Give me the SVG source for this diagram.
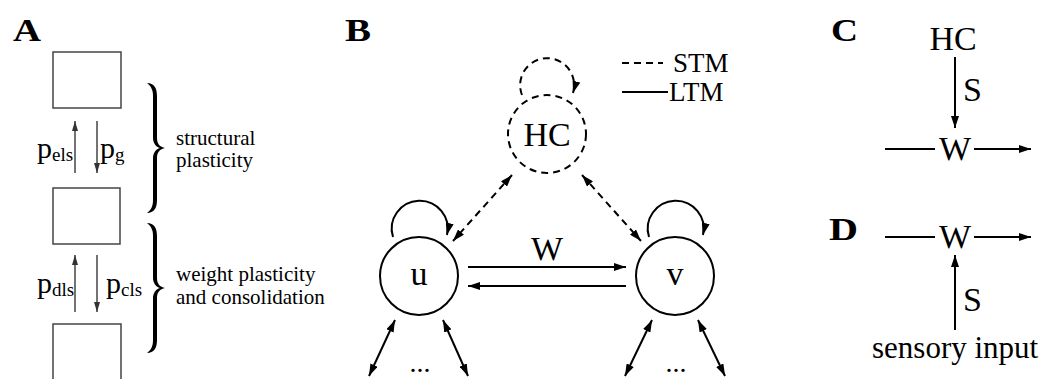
<svg xmlns="http://www.w3.org/2000/svg" width="1043" height="379" viewBox="0 0 1043 379" font-family="Liberation Serif, serif">
<defs>
<style>
.lbl{font-weight:bold;font-size:31px}
.big{font-size:34px}
.mid{font-size:21px}
.pa{fill:none;stroke:#444;stroke-width:1.5}
.ln{fill:none;stroke:#000;stroke-width:2}
.ds{fill:none;stroke:#000;stroke-width:2;stroke-dasharray:7 5}
</style>
<marker id="ahA" viewBox="0 0 10 6" refX="10" refY="3" markerWidth="10" markerHeight="6" markerUnits="userSpaceOnUse" orient="auto"><path d="M0,0 L10,3 L0,6 Z" fill="#333"/></marker>
<marker id="ah" viewBox="0 0 12 8" refX="12" refY="4" markerWidth="12" markerHeight="8" markerUnits="userSpaceOnUse" orient="auto-start-reverse"><path d="M0,0 L12,4 L0,8 Z" fill="#000"/></marker>
<path id="brace" d="M-8,-65 C-1,-65 2,-60 2,-52 L2,-10 C2,-4 5,-1 10,0 C5,1 2,4 2,10 L2,52 C2,60 -1,65 -8,65 C-4,62 -2,58 -2,52 L-2,10 C-2,5 1,1 5,0 C1,-1 -2,-5 -2,-10 L-2,-52 C-2,-58 -4,-62 -8,-65 Z" fill="#000"/>
</defs>

<!-- Panel A -->
<g id="panelA">
<text class="lbl" x="13" y="41" font-family="Liberation Serif, serif" textLength="28" lengthAdjust="spacingAndGlyphs">A</text>
<g id="boxTop"><rect class="pa" x="53" y="52" width="68" height="56"/></g>
<g id="boxMid"><rect class="pa" x="53" y="188" width="67" height="56"/></g>
<g id="boxBot"><path class="pa" d="M53,379 L53,324 L121,324 L121,379"/></g>
<g id="braceStruct"><use href="#brace" x="155" y="148"/></g>
<g id="braceWeight"><use href="#brace" x="155" y="288"/></g>
<text class="mid" x="176" y="145" font-family="Liberation Serif, serif">structural</text>
<text class="mid" x="176" y="167" font-family="Liberation Serif, serif">plasticity</text>
<text class="mid" x="176" y="281" font-family="Liberation Serif, serif">weight plasticity</text>
<text class="mid" x="176" y="304" font-family="Liberation Serif, serif">and consolidation</text>
<text x="37" y="158" font-size="30" font-family="Liberation Serif, serif">p<tspan font-size="19" dy="3">els</tspan></text>
<text x="100" y="158" font-size="30" font-family="Liberation Serif, serif">p<tspan font-size="19" dy="3">g</tspan></text>
<text x="37" y="293" font-size="30" font-family="Liberation Serif, serif">p<tspan font-size="19" dy="3">dls</tspan></text>
<text x="106" y="293" font-size="30" font-family="Liberation Serif, serif">p<tspan font-size="19" dy="3">cls</tspan></text>
</g>
<g id="connectorsA">
<line class="pa" x1="75" y1="173" x2="75" y2="121" marker-end="url(#ahA)"/>
<line class="pa" x1="97" y1="121" x2="97" y2="173" marker-end="url(#ahA)"/>
<line class="pa" x1="75" y1="312" x2="75" y2="255" marker-end="url(#ahA)"/>
<line class="pa" x1="97" y1="255" x2="97" y2="312" marker-end="url(#ahA)"/>
</g>

<!-- Panel B -->
<text class="lbl" x="345" y="41" font-family="Liberation Serif, serif" textLength="26" lengthAdjust="spacingAndGlyphs">B</text>
<g id="legend">
<line class="ds" x1="622" y1="63" x2="663" y2="63" stroke-dasharray="8 5"/>
<text x="673" y="72" font-size="27" font-family="Liberation Serif, serif">STM</text>
<line class="ln" x1="622" y1="92" x2="668" y2="92"/>
<text x="669" y="101" font-size="27" font-family="Liberation Serif, serif">LTM</text>
</g>
<g id="HC">
<circle class="ds" cx="547" cy="134" r="39"/>
<text class="big" x="547" y="146" text-anchor="middle" font-family="Liberation Serif, serif">HC</text>
</g>
<g id="u">
<circle class="ln" cx="419" cy="276" r="39"/>
<text class="big" x="419" y="285" text-anchor="middle" font-family="Liberation Serif, serif">u</text>
</g>
<g id="v">
<circle class="ln" cx="675" cy="276" r="39"/>
<text class="big" x="675" y="285" text-anchor="middle" font-family="Liberation Serif, serif">v</text>
</g>
<text x="420" y="372" font-size="28" text-anchor="middle" font-family="Liberation Serif, serif">...</text>
<text x="676" y="372" font-size="28" text-anchor="middle" font-family="Liberation Serif, serif">...</text>
<g id="connectorsB">
<path class="ds" d="M522,95 A27,27 0 1 1 573,93" marker-end="url(#ah)"/>
<line class="ds" x1="512" y1="175" x2="453" y2="241" marker-start="url(#ah)" marker-end="url(#ah)"/>
<line class="ds" x1="582" y1="175" x2="641" y2="241" marker-start="url(#ah)" marker-end="url(#ah)"/>
<path class="ln" d="M393,237 A28,28 0 1 1 447,235" marker-end="url(#ah)"/>
<path class="ln" d="M649,237 A28,28 0 1 1 703,235" marker-end="url(#ah)"/>
<line class="ln" x1="468" y1="267" x2="626" y2="267" marker-end="url(#ah)"/>
<line class="ln" x1="626" y1="286" x2="468" y2="286" marker-end="url(#ah)"/>
<line class="ln" x1="395" y1="320" x2="369" y2="376" marker-start="url(#ah)" marker-end="url(#ah)"/>
<line class="ln" x1="443" y1="320" x2="468" y2="376" marker-start="url(#ah)" marker-end="url(#ah)"/>
<line class="ln" x1="652" y1="320" x2="625" y2="376" marker-start="url(#ah)" marker-end="url(#ah)"/>
<line class="ln" x1="698" y1="320" x2="725" y2="376" marker-start="url(#ah)" marker-end="url(#ah)"/>
</g>
<text class="big" x="547" y="260" text-anchor="middle" font-family="Liberation Serif, serif">W</text>

<!-- Panel C -->
<text class="lbl" x="831" y="41" font-family="Liberation Serif, serif" textLength="27" lengthAdjust="spacingAndGlyphs">C</text>
<g id="HC_C"><text class="big" x="953" y="50" text-anchor="middle" font-family="Liberation Serif, serif">HC</text></g>
<g id="W_C"><text class="big" x="955" y="160" text-anchor="middle" font-family="Liberation Serif, serif">W</text></g>
<text class="big" x="963" y="101" font-family="Liberation Serif, serif">S</text>
<g id="connectorsC">
<line class="ln" x1="955" y1="57" x2="955" y2="128" marker-end="url(#ah)"/>
<line class="ln" x1="885" y1="149" x2="935" y2="149"/>
<line class="ln" x1="974" y1="149" x2="1031" y2="149" marker-end="url(#ah)"/>
</g>

<!-- Panel D -->
<text class="lbl" x="829" y="240" font-family="Liberation Serif, serif" textLength="29" lengthAdjust="spacingAndGlyphs">D</text>
<g id="W_D"><text class="big" x="955" y="248" text-anchor="middle" font-family="Liberation Serif, serif">W</text></g>
<text class="big" x="963" y="311" font-family="Liberation Serif, serif">S</text>
<g id="sensory"><text x="872" y="358" font-size="31" font-family="Liberation Serif, serif">sensory input</text></g>
<g id="connectorsD">
<line class="ln" x1="885" y1="237" x2="935" y2="237"/>
<line class="ln" x1="974" y1="237" x2="1031" y2="237" marker-end="url(#ah)"/>
<line class="ln" x1="955" y1="330" x2="955" y2="255" marker-end="url(#ah)"/>
</g>
</svg>
